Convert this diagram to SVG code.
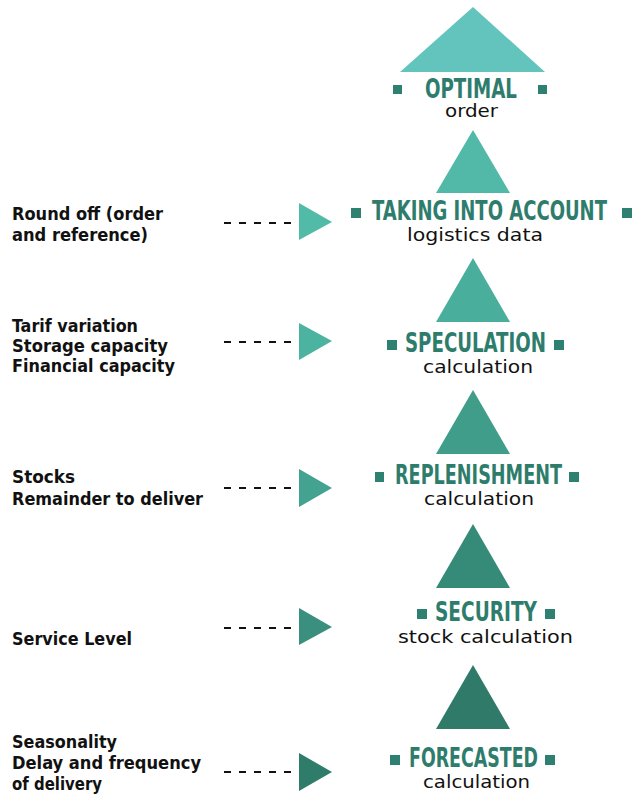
<svg xmlns="http://www.w3.org/2000/svg" width="633" height="796" viewBox="0 0 633 796">
<style>
.t{font-family:"DejaVu Sans Condensed","DejaVu Sans",sans-serif;font-weight:bold;font-size:26px;fill:#2e7d6c}
.s{font-family:"DejaVu Sans","Liberation Sans",sans-serif;font-size:18px;fill:#111}
.l{font-family:"DejaVu Sans Condensed","DejaVu Sans",sans-serif;font-weight:bold;font-size:17px;fill:#111}
.sq{fill:#2e8070}
.dash{stroke:#111;stroke-width:2;stroke-dasharray:7 8;fill:none}
</style>
<rect width="633" height="796" fill="#fff"/>
<g id="node-optimal">
<polygon points="473,7 400,72 545,72" fill="#62c4bc"/>
<rect class="sq" x="393" y="85" width="9" height="9"/>
<rect class="sq" x="538" y="85" width="9" height="9"/>
<text class="t" x="425" y="98" textLength="92" lengthAdjust="spacingAndGlyphs">OPTIMAL</text>
<text class="s" x="445" y="117" textLength="53" lengthAdjust="spacingAndGlyphs">order</text>
</g>
<g id="node-taking">
<polygon points="473,130 436,193 510,193" fill="#52b9a8"/>
<rect class="sq" x="351" y="208" width="10" height="10"/>
<rect class="sq" x="622" y="208" width="10" height="10"/>
<text class="t" x="372" y="220" textLength="235" lengthAdjust="spacingAndGlyphs">TAKING INTO ACCOUNT</text>
<text class="s" x="407" y="241" textLength="136" lengthAdjust="spacingAndGlyphs">logistics data</text>
</g>
<g id="node-speculation">
<polygon points="473,258 436,322 510,322" fill="#4aae9c"/>
<rect class="sq" x="387" y="340" width="10" height="10"/>
<rect class="sq" x="554" y="340" width="10" height="10"/>
<text class="t" x="405" y="352" textLength="141" lengthAdjust="spacingAndGlyphs">SPECULATION</text>
<text class="s" x="423" y="373" textLength="110" lengthAdjust="spacingAndGlyphs">calculation</text>
</g>
<g id="node-replenishment">
<polygon points="473,390 436,454 510,454" fill="#3f9d89"/>
<rect class="sq" x="375" y="472" width="9" height="10"/>
<rect class="sq" x="569" y="472" width="10" height="10"/>
<text class="t" x="395" y="484" textLength="167" lengthAdjust="spacingAndGlyphs">REPLENISHMENT</text>
<text class="s" x="424" y="505" textLength="110" lengthAdjust="spacingAndGlyphs">calculation</text>
</g>
<g id="node-security">
<polygon points="473,524 436,588 510,588" fill="#368a78"/>
<rect class="sq" x="417" y="609" width="10" height="10"/>
<rect class="sq" x="545" y="609" width="10" height="10"/>
<text class="t" x="435" y="621" textLength="102" lengthAdjust="spacingAndGlyphs">SECURITY</text>
<text class="s" x="398" y="643" textLength="175" lengthAdjust="spacingAndGlyphs">stock calculation</text>
</g>
<g id="node-forecasted">
<polygon points="473,665 436,729 510,729" fill="#2f7a68"/>
<rect class="sq" x="390" y="755" width="10" height="10"/>
<rect class="sq" x="545" y="755" width="10" height="10"/>
<text class="t" x="409" y="767" textLength="129" lengthAdjust="spacingAndGlyphs">FORECASTED</text>
<text class="s" x="423" y="788" textLength="107" lengthAdjust="spacingAndGlyphs">calculation</text>
</g>
<g id="input-round">
<text class="l" x="12" y="220" textLength="151" lengthAdjust="spacingAndGlyphs">Round off (order</text>
<text class="l" x="12" y="241" textLength="136" lengthAdjust="spacingAndGlyphs">and reference)</text>
</g>
<g id="input-speculation">
<text class="l" x="12" y="332" textLength="126" lengthAdjust="spacingAndGlyphs">Tarif variation</text>
<text class="l" x="12" y="352" textLength="156" lengthAdjust="spacingAndGlyphs">Storage capacity</text>
<text class="l" x="12" y="372" textLength="163" lengthAdjust="spacingAndGlyphs">Financial capacity</text>
</g>
<g id="input-stocks">
<text class="l" x="12" y="483" textLength="63" lengthAdjust="spacingAndGlyphs">Stocks</text>
<text class="l" x="12" y="505" textLength="191" lengthAdjust="spacingAndGlyphs">Remainder to deliver</text>
</g>
<g id="input-service">
<text class="l" x="12" y="645" textLength="120" lengthAdjust="spacingAndGlyphs">Service Level</text>
</g>
<g id="input-seasonality">
<text class="l" x="12" y="748" textLength="105" lengthAdjust="spacingAndGlyphs">Seasonality</text>
<text class="l" x="12" y="769" textLength="189" lengthAdjust="spacingAndGlyphs">Delay and frequency</text>
<text class="l" x="12" y="790" textLength="90" lengthAdjust="spacingAndGlyphs">of delivery</text>
</g>
<g id="connectors">
<line class="dash" x1="224" y1="223" x2="291" y2="223"/>
<polygon points="299,203 332,222 299,240" fill="#52bba8"/>
<line class="dash" x1="224" y1="342" x2="291" y2="342"/>
<polygon points="299,323 332,341 299,360" fill="#4cb3a0"/>
<line class="dash" x1="224" y1="488" x2="291" y2="488"/>
<polygon points="299,469 332,488 299,507" fill="#44a290"/>
<line class="dash" x1="224" y1="628" x2="291" y2="628"/>
<polygon points="299,608 332,627 299,645" fill="#3a8f7e"/>
<line class="dash" x1="224" y1="772" x2="291" y2="772"/>
<polygon points="299,753 332,772 299,791" fill="#2f7c6a"/>
</g>
</svg>
